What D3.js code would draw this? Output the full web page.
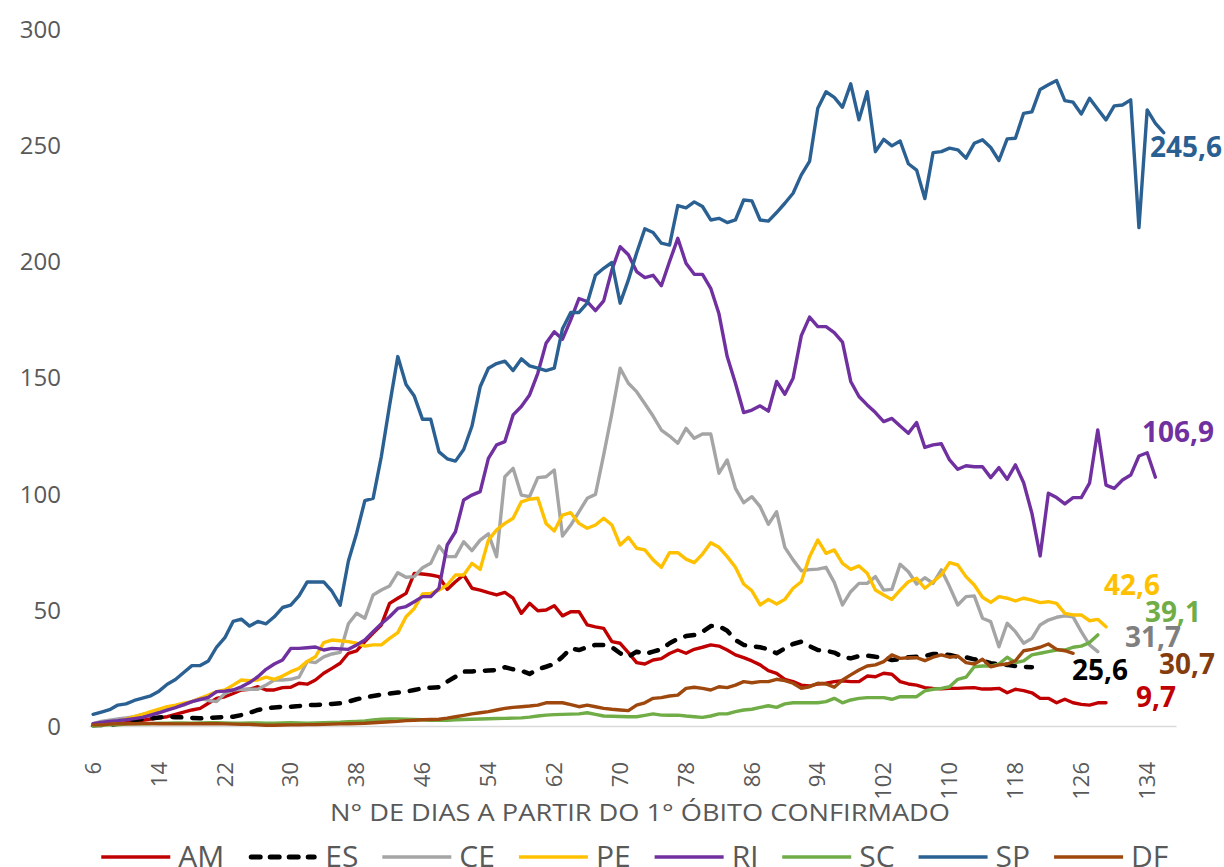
<!DOCTYPE html>
<html><head><meta charset="utf-8">
<script src="https://cdn.jsdelivr.net/npm/d3@7"></script>
<style>
html,body{margin:0;padding:0;background:#fff;overflow:hidden}
text{font-family:"Open Sans","Noto Sans",sans-serif}
</style></head>
<body><svg id="c" width="1224" height="867"></svg>
<script>
// ---------- DATA ----------
const days = d3.range(6, 138); // category axis: nº de dias
const firstDay = 6;
const tickDays = [6,14,22,30,38,46,54,62,70,78,86,94,102,110,118,126,134];
const yTicks = [0,50,100,150,200,250,300];
const seriesNames = ["AM","ES","CE","PE","RJ","SC","SP","DF"];
const seriesColors = ["#C00000","#000000","#A5A5A5","#FFC000","#7030A0","#70AD47","#2A6092","#9E480E"];

const AM = [0.5,0.5,1,1,1.5,2,2.5,3,3.5,4,5,6,6.9,7.6,9.8,11.9,12.6,14,15.5,15.8,16.9,15.5,15.5,16.5,16.7,18.4,18,19.8,22.7,24.8,27,31.3,32.3,36.3,40,43.5,52.8,55,57.1,65.7,65.4,65,64.3,58.8,62.1,65,59.3,58.5,57.4,56.4,57.5,55,48.5,52.8,49.6,49.9,51.8,47.4,49.2,49.2,43.5,42.7,42,36.3,35.6,31.6,27.3,26.7,28.4,29,31.2,32.7,31.3,33,33.9,34.9,34.4,32.7,30.6,29.4,28,26.3,23.8,22.7,20.1,19.1,17.6,17.2,18.1,18.4,19.1,19.5,19.1,19.1,21.5,21.2,22.7,22.3,19.1,18.1,17.6,16.5,16.2,16,16.2,16.2,16.4,16.5,15.9,15.9,16.2,14.3,15.8,15.2,14.3,11.9,11.9,10,11.5,10,9.3,9,10,10];
const ES = [0.3,0.5,0.3,1,2,2.6,3,3.3,3.7,4,3.8,3.7,3.5,3.3,3.5,3.7,3.8,4,4.7,5.7,6.9,7.6,8,8.3,8.3,8.6,9,9,9.3,9.5,9.8,10.5,11.5,12.3,12.9,13.5,14,14.4,14.8,15.5,16.2,16.5,16.7,19.1,21.2,23.4,23.5,23.7,23.9,24.1,25.3,24.4,23.8,22.4,24.4,25.5,26.7,29.8,33.4,32.7,33.9,34.9,34.9,33.9,31.3,29.8,32,31,32,33,35.6,37.5,38.7,39.2,40.6,43,43,41,37,34.9,34.4,33.9,33,31.3,33.4,35.3,36.3,34.4,32.7,32.4,31.6,29.8,29.1,30.1,30.3,29.8,29.4,28.4,28.7,29.6,29.8,30.1,31,31,30.6,29.8,29.6,28.7,28.1,27,26.7,26.3,25.8,25.5,25.3];
const CE = [1,2,2.5,3,3.5,4,5,5.7,6.5,7.6,8.3,9,10.5,11.9,11,10.5,14,15.5,15.8,15.8,15.8,17.6,19.8,19.8,20.1,21,27.8,27.3,29.8,31,31.7,44,48.5,46.4,56.4,58.5,60.3,66,64,64.3,68.1,70,77.5,72.9,72.9,79.3,75.5,80,82.7,72.9,107.3,110.9,99.4,98.7,106.9,107.3,110.2,81.8,86.5,92.2,98,99.7,116.7,134.6,154,147.5,143.9,138.7,133.4,127.4,124.8,121.7,128.1,123.8,125.7,125.7,108.8,114.5,102.3,96.1,98.7,94.4,86.8,92.2,76.9,71.5,66.8,67.3,67.5,68.3,61.8,52.1,57.8,61.4,61.4,64.3,58.5,58.8,69.6,66.4,61.1,63.8,61.4,67.2,60,52.1,55.7,56,46.4,44.9,34.1,44.2,40.6,35.6,37.7,43.5,45.6,46.8,47.4,47,40.6,34.9,32];
const PE = [0.5,1,1.5,2,3,4,5,6.2,7.3,8.3,9,9.8,10.5,11.9,13.3,14.8,15.5,17.6,19.8,19.5,19.8,21,20.1,21.5,23.4,24.8,27.8,29.8,35.9,37,36.7,36.3,35.6,34.4,34.9,34.9,37.7,40.2,47,50.6,56.8,57.1,58.5,60.7,65,65,70,67.4,80,84.4,87.2,89.4,96.5,97.6,98,87.2,83.9,90.8,91.8,87.2,85.1,86.5,89.4,86.5,77.9,81.2,76.5,75.8,71.5,68.3,74.6,74.6,71.8,70.3,74,78.9,76.9,72.9,68.3,61.1,58.2,52.1,54.5,52.5,54.5,59.3,62.1,72.9,80.1,74.3,75.8,70,67.4,68.9,65.7,58.5,56.4,54.5,58.5,62.1,63.6,59.3,62.1,65,70.3,69.3,64.3,60.7,55.4,53.2,55.7,55,53.8,55,54.2,53.1,53.5,52.8,48.5,47.8,47.8,45.3,45.9,42.7];
const RJ = [1,1.5,2,2.3,2.7,3.2,3.7,4.7,5.7,6.8,7.9,9.2,10.5,11.4,12.3,14.8,15,15.5,16.9,18.7,21.2,24.4,26.7,28.4,33.4,33.4,33.7,34,32.7,33.4,33.2,33,34.9,37,40.6,44,47,50.6,51.4,53.5,55.7,55.7,59.3,77.9,83.6,97.3,99.4,100.9,115.2,121,122.4,133.9,137.5,142.5,151.8,164.7,169.7,166.5,174.8,184,182.7,178.8,183,196.3,206.3,202.8,195.6,193,194,189.5,199.9,209.9,199.2,194.4,194.4,188.4,177.4,159,147.5,134.9,136,137.8,135.5,148.3,142.8,149.7,168,176,171.9,171.9,169.3,165.2,148.3,141.8,138.2,134.9,131,132.4,129.1,126,130.6,119.9,121,121.5,114.5,110.5,112,111.6,111.6,106.9,111.2,106.2,112.4,104.7,91.6,73.2,100.2,98.3,95.6,98.3,98.3,104.5,127.4,103.7,102.3,105.9,108,116.2,117.6,107.1];
const SC = [0,0.3,0.5,0.5,0.8,1,1,1,1.2,1.2,1.3,1.3,1.2,1.3,1.4,1.4,1.3,1.2,1.2,1.3,1.3,1.2,1.2,1.3,1.4,1.3,1.2,1.3,1.4,1.5,1.6,1.8,2,2.2,2.6,2.9,3,3,2.9,2.8,2.7,2.5,2.4,2.5,2.7,2.8,2.9,3,3.1,3.2,3.3,3.4,3.5,3.8,4.3,4.7,4.9,5,5.1,5.2,5.7,5,4.3,4.2,4.1,4,4,4.6,5.2,4.7,4.6,4.7,4.3,4,3.7,4.3,5.2,5.2,6.2,6.9,7.2,8,8.7,8,9.5,10,10,10,10,10.5,11.9,10,11.2,11.9,12.2,12.2,12.2,11.5,12.6,12.6,12.6,15.1,15.8,16.2,16.9,20.1,21,25.5,25.8,25.8,26.7,29.6,27.3,28,30.6,31.3,32,32.7,32.7,33.9,34.4,35.9,39.2];
const SP = [5,6,7,9,9.5,11,12,13,15,18,20,23,26,26,28,34,38,45,46,43,45,44,47,51,52,56,62,62,62,58,52,71,83,97,98,116,138,159,147,142,132,132,118,115,114,119,129,146,154,156,157,153,158,155,154,153,154,171,178,178,182,194,197,199.5,182,192,203.6,214,212.4,207.8,207,224,223,225.6,223.6,217.8,218.5,216.7,217.8,226.4,226,217.8,217.3,221,225,229.3,237.2,243,265.9,273,270.6,266.3,276.4,260.9,273,247.2,252.5,249.7,251.8,242,239.3,227,246.8,247.2,248.7,248,244.4,250.8,252.3,249,243.4,252.7,253,263.7,264.3,274,276,277.8,269.2,268.5,263.4,270.2,265.5,260.9,266.9,267.3,269.5,214.5,265.2,259.4,255.4];
const DF = [0.5,0.5,0.8,1,1,1,1.1,1.1,1,1,0.9,0.9,1,1,1,1,0.9,0.8,0.7,0.7,0.5,0.3,0.3,0.4,0.5,0.5,0.6,0.6,0.7,0.8,0.9,1,1.1,1.2,1.4,1.6,1.8,2,2.3,2.5,2.7,2.8,2.9,3.4,4,4.6,5.2,5.7,6.2,6.9,7.6,8,8.3,8.6,9,10,10,10,9.2,8.3,9,8.3,7.6,7.2,6.9,6.6,9,10,11.9,12.2,12.9,13.3,16.2,16.7,16.2,15.5,16.9,16.5,17.6,19.1,18.6,19.1,19.1,20.1,19.5,18.4,16.2,16.9,18.4,18.1,16.7,19.8,22,24.1,25.8,26.3,27.7,30.6,29.1,29.4,29.4,28.1,29.6,30.6,29.6,30.1,27.3,26.7,28.7,25.5,26.3,26.7,28.1,32.4,33,33.9,35.3,33,32.4,31.3];
const endLabels = ["9,7","25,6","31,7","42,6","106,9","39,1","245,6","30,7"];
const labelColors = ["#C00000","#000000","#7F7F7F","#FFC000","#7030A0","#70AD47","#2A5F91","#843C0C"];

const seriesValues = [AM, ES, CE, PE, RJ, SC, SP, DF];

// ---------- DRAW ----------
const svg = d3.select("#c");
const x = d3.scaleBand().domain(days).range([89, 1176]);
const xc = d => x(d) + x.bandwidth()/2;
const y = d3.scaleLinear().domain([0, 300]).range([726, 29]);
const gray = "#595959";

// Y axis (labels only)
const ya = svg.append("g").attr("transform","translate(61,0)")
  .call(d3.axisLeft(y).tickValues(yTicks).tickSize(0).tickPadding(0).tickFormat(d3.format("d")));
ya.select(".domain").remove();
ya.selectAll("text").attr("fill", gray).style("font-size","24px").attr("x",0).attr("dy","0.35em");

// X axis
const xa = svg.append("g").attr("transform","translate(0,726)")
  .call(d3.axisBottom(x).tickValues(tickDays).tickSize(0));
xa.select(".domain").attr("stroke","#D9D9D9").attr("stroke-width",1.5);
xa.selectAll("text").attr("fill", gray).style("font-size","22px")
  .attr("transform","rotate(-90)").attr("x",-36).attr("y",0).attr("dy","0.35em")
  .style("text-anchor","end");

// Axis title
svg.append("text").attr("x",640).attr("y",821).attr("text-anchor","middle")
  .attr("fill",gray).style("font-size","24px")
  .attr("textLength",620).attr("lengthAdjust","spacingAndGlyphs")
  .text("N° DE DIAS A PARTIR DO 1° ÓBITO CONFIRMADO");

// Lines
const line = d3.line().x((v,i) => xc(firstDay + i)).y(v => y(v));
seriesNames.forEach((name, k) => {
  const p = svg.append("path").datum(seriesValues[k])
    .attr("d", line).attr("fill","none")
    .attr("stroke", seriesColors[k])
    .attr("stroke-linejoin","round");
  if (name === "ES") p.attr("stroke-width",4.5).attr("stroke-dasharray","9,11").attr("stroke-linecap","round");
  else p.attr("stroke-width",3.4).attr("stroke-linecap","round");
});

// End labels (layout: start x, baseline y)
const labelLayout = {AM:[1136,707],ES:[1072,680],CE:[1125,647],PE:[1104,595],RJ:[1142,442],SC:[1145,622],SP:[1150,157],DF:[1159,674]};
seriesNames.forEach((name,k) => {
  const [lx, ly] = labelLayout[name];
  svg.append("text").attr("x",lx).attr("y",ly).attr("fill",labelColors[k])
    .style("font-size","28px").style("font-weight","700").text(endLabels[k]);
});

// Legend
const lg = svg.append("g");
let cx = 0;
seriesNames.forEach((name,k) => {
  const g = lg.append("g").attr("transform",`translate(${cx},0)`);
  const l = g.append("line").attr("x1",0).attr("x2",69).attr("y1",857).attr("y2",857)
    .attr("stroke",seriesColors[k]);
  if (name === "ES") l.attr("stroke-width",5).attr("stroke-dasharray","9,10").attr("stroke-linecap","round").attr("x1",3).attr("x2",66);
  else l.attr("stroke-width",3.4);
  const t = g.append("text").attr("x",77).attr("y",867).attr("fill",gray).style("font-size","30px").text(name);
  const w = t.node().getComputedTextLength();
  cx += 77 + w + 24;
});
const total = cx - 24;
lg.attr("transform",`translate(${634.8 - total/2},0)`);
</script></body></html>
